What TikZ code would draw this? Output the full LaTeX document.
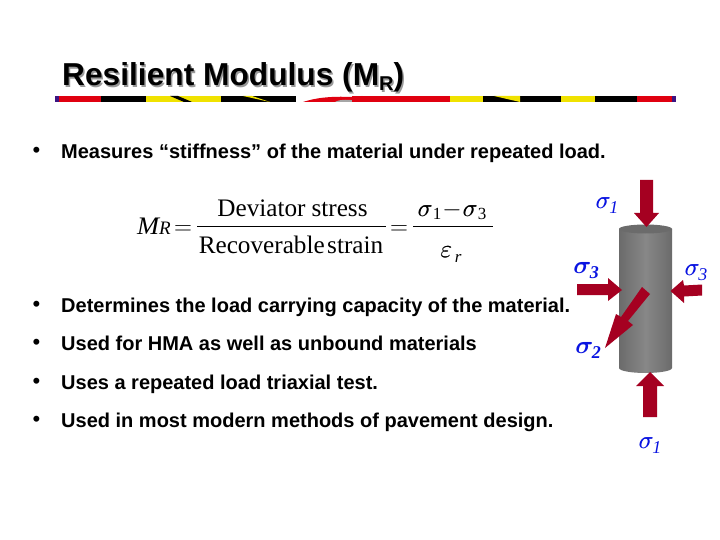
\documentclass[tikz,border=0pt]{standalone}
\usepackage{amsmath}
\usepackage{fontspec}
\usepackage{graphicx}
\setmainfont{Liberation Sans}
\newfontfamily\serifx{Liberation Serif}
\definecolor{arrowred}{RGB}{165,0,33}
\definecolor{barred}{RGB}{224,0,16}
\definecolor{baryellow}{RGB}{240,226,0}
\definecolor{barpurple}{RGB}{60,20,130}
\definecolor{sigblue}{RGB}{10,20,225}
\tikzset{
  bodytext/.style={anchor=base west,font=\fontsize{20}{22}\selectfont\bfseries,inner sep=0pt,text=black},
  bulletmark/.style={anchor=base west,font=\fontsize{22}{22}\selectfont,inner sep=0pt},
  loadarrow/.style={fill=arrowred,draw=none},
  siglabel/.style={font=\fontsize{29}{29}\selectfont\serifx\itshape,text=sigblue,inner sep=0pt},
  eqtext/.style={font=\fontsize{25.2}{26}\selectfont\serifx,inner sep=0pt,anchor=base},
  rule/.style={line width=0.9pt,black},
}
\newcommand{\heavysig}{\rlap{$\sigma$}\kern0.35pt$\sigma$}
\newcommand{\sigsub}[1]{\heavysig\kern-1.5pt\raisebox{-5pt}{\fontsize{18}{18}\selectfont #1}}
\newcommand{\sigsubb}[1]{$\boldsymbol{\sigma}$\kern-1.5pt\raisebox{-5pt}{\fontsize{18}{18}\selectfont\bfseries #1}}
\newcommand{\eqsub}[1]{\raisebox{-3pt}{\upshape\fontsize{17}{17}\selectfont #1}}
\begin{document}
\begin{tikzpicture}[x=1pt,y=-1pt]
\useasboundingbox (0,0) rectangle (720,540);
\fill[white] (0,0) rectangle (720,540);
% title
\node[anchor=base west,inner sep=0pt,text=black!40,font=\fontsize{31.7}{32}\selectfont\bfseries] (titleshadow) at (63.5,87.5) {Resilient Modulus (M\raisebox{-5pt}{\fontsize{20}{20}\selectfont R})};
\node[anchor=base west,inner sep=0pt,font=\fontsize{31.7}{32}\selectfont\bfseries] (title) at (62,86) {Resilient Modulus (M\raisebox{-5pt}{\fontsize{20}{20}\selectfont R})};
% striped bar
\fill[black] (55,96) rectangle (676,102);
\fill[barpurple] (55,96) rectangle (59,102);
\fill[barred] (59,96) rectangle (101,102);
\fill[baryellow] (146,96) rectangle (221,102);
\fill[black] (170,96) -- (178,96) -- (192,102) -- (184,102) -- cycle;
\fill[baryellow] (243,96) -- (252,96) -- (270,102) -- cycle;
\fill[white] (296,96) rectangle (362,102);
\fill[barred] (303,102) .. controls (315,98) and (330,96) .. (352,97) -- (362,96) -- (362,102) -- cycle;
\fill[black!35] (335,102) .. controls (340,99) and (350,99) .. (362,102) -- cycle;
\fill[barred] (352,96) rectangle (450,102);
\fill[baryellow] (450,96) rectangle (483,102);
\fill[baryellow] (494,96) -- (520,96) -- (520,102) -- cycle;
\fill[baryellow] (561,96) rectangle (595,102);
\fill[barred] (637,96) rectangle (672,102);
\fill[barpurple] (672,96) rectangle (676,102);
% bullets
\foreach \n/\y in {b1/157.5,b2/311.5,b3/349.5,b4/388.5,b5/426.5}{
  \node[bulletmark] (\n) at (32.5,\y) {•};
}
\node[bodytext] (t1) at (61,158.7) {Measures “stiffness” of the material under repeated load.};
\node[bodytext] (t2) at (61,312.7) {Determines the load carrying capacity of the material.};
\node[bodytext] (t3) at (61,350.7) {Used for HMA as well as unbound materials};
\node[bodytext] (t4) at (61,389.7) {Uses a repeated load triaxial test.};
\node[bodytext] (t5) at (61,427.7) {Used in most modern methods of pavement design.};
% equation
\node[eqtext,anchor=base west] (eqm) at (137,234) {\itshape\scalebox{1.05}[1]{M}\fontsize{19}{19}\selectfont R};
\node[eqtext] (eq1) at (183,234) {$=$};
\node[eqtext] (num) at (292.5,217) {Deviator\hspace{6pt}stress};
\node[eqtext] (den) at (291,253) {Recoverable\hspace{2.5pt}strain};
\node[eqtext] (eq2) at (399,234) {$=$};
\node[eqtext] (num2) at (452,217) {\heavysig\eqsub{1}\hspace{1pt}$-$\hspace{1pt}\heavysig\eqsub{3}};
\node[eqtext] (den2) at (451,258) {\rlap{$\varepsilon$}\kern0.35pt$\varepsilon$\raisebox{-5pt}{\fontsize{17}{17}\selectfont\itshape\,r}};
\coordinate (f1l) at (197,226); \coordinate (f1r) at (386,226);
\coordinate (f2l) at (413,226); \coordinate (f2r) at (493,226);
\draw[rule] (f1l) -- (f1r);
\draw[rule] (f2l) -- (f2r);
% cylinder
\shade[left color=black!58,right color=black!58,middle color=black!47]
  (619,229) -- (672,229) -- (672,368) arc[start angle=0,end angle=180,x radius=26.5,y radius=5] -- cycle;
\fill[black!58] (645.5,229) ellipse[x radius=26.5,y radius=4.5];
% arrows
\fill[loadarrow] (640,180) -- (653,180) -- (653,213) -- (659,213) -- (646.5,227) -- (634,213) -- (640,213) -- cycle;
\fill[loadarrow] (643,417) -- (657,417) -- (657,386) -- (664,386) -- (650,372) -- (636,386) -- (643,386) -- cycle;
\fill[loadarrow] (577,284) -- (608,284) -- (608,278) -- (622,290) -- (608,301) -- (608,295) -- (577,295) -- cycle;
\fill[loadarrow] (702,284.5) -- (684,285.5) -- (683,280) -- (670.5,291) -- (684,303) -- (684,296.5) -- (702,295.5) -- cycle;
\fill[loadarrow] (642,287) -- (650,294) -- (628,321) -- (633,325) -- (605,348) -- (616,314) -- (621,317) -- cycle;
% labels
\node[siglabel] (s1t) at (607,206) {\sigsub{1}};
\node[siglabel] (s3l) at (586,271) {\sigsubb{3}};
\node[siglabel] (s3r) at (696,273) {\sigsub{3}};
\node[siglabel] (s2) at (588,350) {\sigsubb{2}};
\node[siglabel] (s1b) at (650,446) {\sigsub{1}};
\end{tikzpicture}
\end{document}
